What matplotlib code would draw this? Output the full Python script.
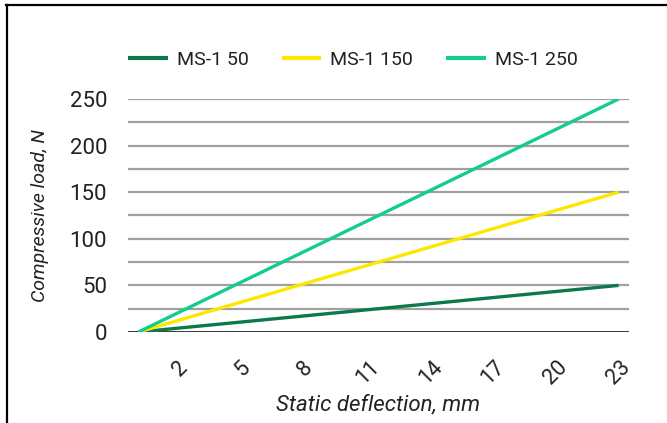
import matplotlib
matplotlib.use("Agg")
import matplotlib.pyplot as plt
import matplotlib.transforms as mtransforms
from matplotlib.lines import Line2D

plt.rcParams['font.family'] = ['Roboto', 'DejaVu Sans']

# static deflection, mm (first and last point of each straight series)
deflection = [0, 23]
ms1_50 = [0, 50]
ms1_150 = [0, 150]
ms1_250 = [0, 250]
series_names = ['MS-1 50', 'MS-1 150', 'MS-1 250']
colors = ['#0b7a4b', '#ffe600', '#14cc8c']
x_ticks = [2, 5, 8, 11, 14, 17, 20, 23]
y_ticks = [0, 50, 100, 150, 200, 250]

fig = plt.figure(figsize=(6.67, 4.23), dpi=100)
ax = fig.add_axes([128/667, 1-332/423, (629-128)/667, (332-99)/423])

for gy in range(25, 251, 25):
    ax.axhline(gy, color='#a0a0a0', lw=1.6, zorder=1)
ax.axhline(0, color='#222222', lw=2, zorder=1)

for ys, name, c in zip([ms1_50, ms1_150, ms1_250], series_names, colors):
    ax.plot(deflection, ys, color=c, lw=2.4, label=name, zorder=3, solid_capstyle='butt')

ax.set_xlim(-0.5, 23.5)
ax.set_ylim(0, 250)
ax.set_xticks(x_ticks)
ax.set_xticklabels([str(t) for t in x_ticks], rotation=45, ha='center', va='top',
                   fontsize=15.5, color='#222222')
shift = mtransforms.ScaledTranslation(-5/100, 0, fig.dpi_scale_trans)
for lab in ax.get_xticklabels():
    lab.set_transform(lab.get_transform() + shift)
ax.set_yticks(y_ticks)
ax.set_yticklabels([str(t) for t in y_ticks], fontsize=16, color='#222222')
ax.tick_params(axis='both', length=0)
ax.tick_params(axis='y', pad=15)
ax.tick_params(axis='x', pad=18)
for s in ax.spines.values():
    s.set_visible(False)
ax.set_facecolor('none')

ax.set_ylabel('Compressive load, N', fontsize=14, style='italic', color='#222222', labelpad=15)
ax.set_xlabel('Static deflection, mm', fontsize=16, style='italic', color='#222222', labelpad=4)

leg = ax.legend(loc='lower left', bbox_to_anchor=(0.0, 1.13), ncol=3, frameon=False,
                fontsize=14, handlelength=2.05, handletextpad=0.45, columnspacing=1.7,
                borderaxespad=0, borderpad=0)
for h in leg.get_lines():
    h.set_linewidth(3)
for t in leg.get_texts():
    t.set_color('#222222')

# outer frame: top and left edges
fig.add_artist(Line2D([6/667, 1], [1-5/423, 1-5/423], transform=fig.transFigure, color='black', lw=1.6))
fig.add_artist(Line2D([7/667, 7/667], [0, 1-5/423], transform=fig.transFigure, color='black', lw=1.6))

fig.savefig('out.png', dpi=100)
